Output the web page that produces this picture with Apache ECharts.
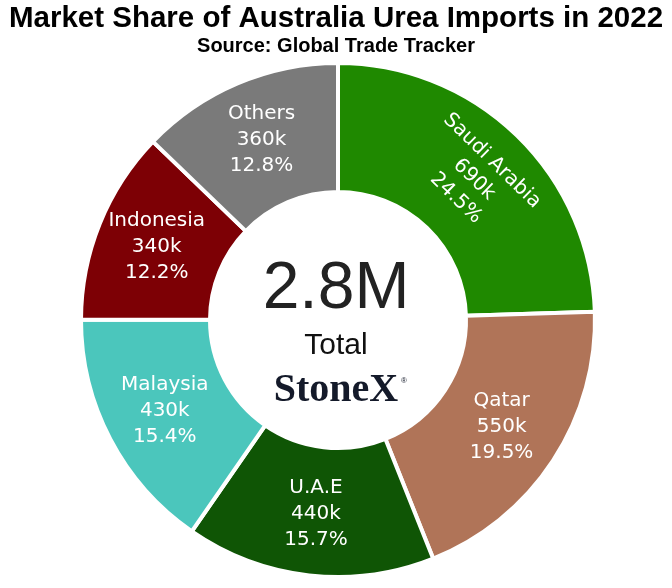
<!DOCTYPE html>
<html>
<head>
<meta charset="utf-8">
<script src="https://cdn.jsdelivr.net/npm/echarts@6/dist/echarts.min.js"></script>
<style>
  html, body { margin: 0; padding: 0; background: #fff; }
  #donut { width: 672px; height: 588px; }
</style>
</head>
<body>
<div id="donut"></div>
<script>
// Australia urea imports 2022, thousand tonnes
var countries = ['Saudi Arabia', 'Qatar', 'U.A.E', 'Malaysia', 'Indonesia', 'Others'];
var imports = [689, 548, 441, 433, 343, 360];
var sliceColors = ['#1f8900', '#b07458', '#0f5505', '#4bc6bc', '#7d0005', '#7a7a7a'];

var total = imports.reduce(function(a, b) { return a + b; }, 0);

var chart = echarts.init(document.getElementById('donut'));

var pieData = countries.map(function(name, i) {
    var item = { name: name, value: imports[i], itemStyle: { color: sliceColors[i] } };
    // first slice has its label turned along the ring
    if (i === 0) {
        item.label = { rotate: 'tangential' };
    }
    return item;
});

chart.setOption({
    animation: false,

    // Title block
    title: {
        text: 'Market Share of Australia Urea Imports in 2022',
        subtext: 'Source: Global Trade Tracker',
        left: 'center',
        top: -1,
        itemGap: 2,
        textStyle: {
            fontFamily: '"Liberation Sans Narrow", "Liberation Sans", Arial, sans-serif',
            fontWeight: 'bold',
            fontSize: 29.5,
            color: '#000'
        },
        subtextStyle: {
            fontFamily: '"Liberation Sans Narrow", "Liberation Sans", Arial, sans-serif',
            fontWeight: 'bold',
            fontSize: 20,
            color: '#000'
        }
    },

    // Centre text
    graphic: [
        {
            type: 'text',
            x: 336, y: 290,
            style: {
                text: (total / 1000).toFixed(1) + 'M',
                align: 'center', verticalAlign: 'middle',
                fontFamily: '"Liberation Sans", Arial, sans-serif',
                fontSize: 66,
                fill: '#222'
            }
        },
        {
            type: 'text',
            x: 336, y: 346,
            style: {
                text: 'Total',
                align: 'center', verticalAlign: 'middle',
                fontFamily: '"Liberation Sans", Arial, sans-serif',
                fontSize: 30,
                fill: '#111'
            }
        },
        {
            type: 'text',
            x: 336, y: 391,
            style: {
                text: 'StoneX',
                align: 'center', verticalAlign: 'middle',
                fontFamily: '"Liberation Serif", "DejaVu Serif", serif',
                fontWeight: 'bold',
                fontSize: 40,
                fill: '#141a2a'
            }
        },
        {
            type: 'text',
            x: 404, y: 381,
            style: {
                text: '\u00ae',
                align: 'center', verticalAlign: 'middle',
                fontFamily: '"Liberation Sans", Arial, sans-serif',
                fontSize: 8,
                fill: '#141a2a'
            }
        }
    ],

    series: [{
        type: 'pie',
        center: [338, 320],
        radius: [128, 257],
        startAngle: 90,
        clockwise: true,
        itemStyle: {
            borderColor: '#fff',
            borderWidth: 4
        },
        label: {
            show: true,
            position: 'inside',
            color: '#fff',
            fontFamily: '"DejaVu Sans", Verdana, sans-serif',
            fontSize: 20,
            lineHeight: 26,
            align: 'center',
            formatter: function(p) {
                var k = Math.round(p.value / 10) * 10;
                var pct = (p.value / total * 100).toFixed(1);
                return p.name + '\n' + k + 'k\n' + pct + '%';
            }
        },
        labelLine: { show: false },
        emphasis: { disabled: true },
        data: pieData
    }]
});
</script>
</body>
</html>
